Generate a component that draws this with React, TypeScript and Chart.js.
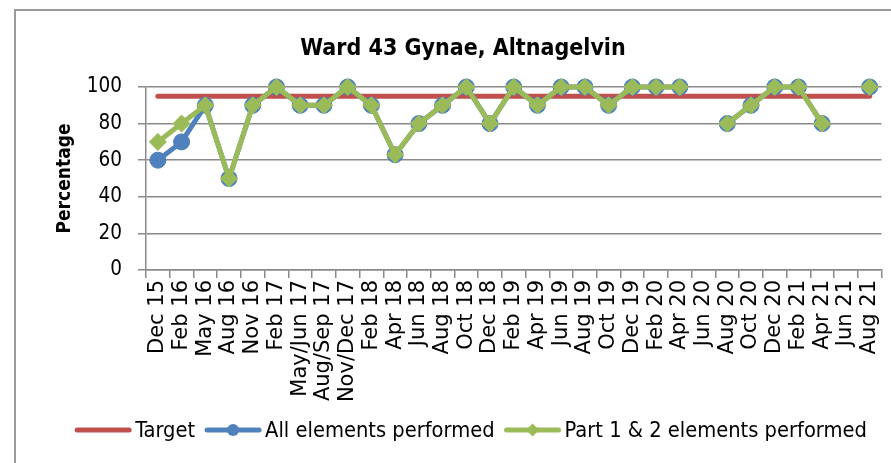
import React, { useEffect, useRef } from "react";
import { Chart, registerables } from "chart.js";

Chart.register(...registerables);

const categories = [
  "Dec 15", "Feb 16", "May 16", "Aug 16", "Nov 16", "Feb 17", "May/Jun 17", "Aug/Sep 17",
  "Nov/Dec 17", "Feb 18", "Apr 18", "Jun 18", "Aug 18", "Oct 18", "Dec 18", "Feb 19",
  "Apr 19", "Jun 19", "Aug 19", "Oct 19", "Dec 19", "Feb 20", "Apr 20", "Jun 20",
  "Aug 20", "Oct 20", "Dec 20", "Feb 21", "Apr 21", "Jun 21", "Aug 21",
];

const targetValues = [
  95, 95, 95, 95, 95, 95, 95, 95, 95, 95, 95, 95, 95, 95, 95, 95,
  95, 95, 95, 95, 95, 95, 95, 95, 95, 95, 95, 95, 95, 95, 95,
];

const allElements: (number | null)[] = [
  60, 70, 90, 50, 90, 100, 90, 90, 100, 90, 63, 80, 90, 100, 80, 100,
  90, 100, 100, 90, 100, 100, 100, null, 80, 90, 100, 100, 80, null, 100,
];

const part12Elements: (number | null)[] = [
  70, 80, 90, 50, 90, 100, 90, 90, 100, 90, 63, 80, 90, 100, 80, 100,
  90, 100, 100, 90, 100, 100, 100, null, 80, 90, 100, 100, 80, null, 100,
];

const yTicks = [0, 20, 40, 60, 80, 100];

const chartTitle = "Ward 43 Gynae, Altnagelvin";
const yTitle = "Percentage";
const seriesNames = ["Target", "All elements performed", "Part 1 & 2 elements performed"];

const RED = "#C0504D";
const BLUE = "#4F81BD";
const GREEN = "#9BBB59";
const GRID = "#8a8a8a";

const W = 891;
const H = 463;

export default function App() {
  const ref = useRef<HTMLCanvasElement | null>(null);

  useEffect(() => {
    const canvas = ref.current;
    if (!canvas) return;

    const decor = {
      id: "decor",
      beforeDraw(chart: any) {
        const ctx = chart.ctx;
        ctx.save();
        ctx.fillStyle = "#ffffff";
        ctx.fillRect(0, 0, W, H);
        ctx.strokeStyle = "#9a9a9a";
        ctx.lineWidth = 2;
        ctx.beginPath();
        ctx.moveTo(15, H);
        ctx.lineTo(15, 10);
        ctx.lineTo(W, 10);
        ctx.stroke();
        ctx.restore();
      },
      afterDraw(chart: any) {
        const ctx = chart.ctx;
        const area = chart.chartArea;
        ctx.save();
        // title
        ctx.fillStyle = "#000";
        ctx.textAlign = "center";
        ctx.textBaseline = "middle";
        ctx.font = "bold 23px 'DejaVu Sans Condensed', 'DejaVu Sans'";
        ctx.fillText(chartTitle, 463, 49);
        // y title
        ctx.save();
        ctx.translate(65, (area.top + area.bottom) / 2);
        ctx.rotate(-Math.PI / 2);
        ctx.font = "bold 19px 'DejaVu Sans Condensed', 'DejaVu Sans'";
        ctx.fillText(yTitle, 0, 0);
        ctx.restore();

        // legend
        const colors = [RED, BLUE, GREEN];
        const markers = ["none", "circle", "diamond"];
        ctx.font = "21.7px 'DejaVu Sans Condensed', 'DejaVu Sans'";
        const lineLen = 56;
        const gapText = 4;
        const gapItem = 10;
        const widths = seriesNames.map((n) => ctx.measureText(n).width);
        const total = widths.reduce((a, w) => a + lineLen + gapText + w, 0) + gapItem * (seriesNames.length - 1);
        let x = 471 - total / 2;
        const y = 430;
        ctx.textAlign = "left";
        seriesNames.forEach((name, i) => {
          ctx.strokeStyle = colors[i];
          ctx.lineWidth = 5;
          ctx.lineCap = "round";
          ctx.beginPath();
          ctx.moveTo(x + 2, y);
          ctx.lineTo(x + lineLen - 2, y);
          ctx.stroke();
          const cx = x + lineLen / 2;
          ctx.fillStyle = colors[i];
          if (markers[i] === "circle") {
            ctx.beginPath();
            ctx.arc(cx, y, 6, 0, Math.PI * 2);
            ctx.fill();
          } else if (markers[i] === "diamond") {
            ctx.beginPath();
            ctx.moveTo(cx - 6.5, y);
            ctx.lineTo(cx, y - 6.5);
            ctx.lineTo(cx + 6.5, y);
            ctx.lineTo(cx, y + 6.5);
            ctx.closePath();
            ctx.fill();
          }
          ctx.fillStyle = "#000";
          ctx.fillText(name, x + lineLen + gapText, y + 1);
          x += lineLen + gapText + widths[i] + gapItem;
        });
        ctx.restore();
      },
    };

    const chart = new Chart(canvas, {
      type: "line",
      data: {
        labels: categories,
        datasets: [
          {
            label: seriesNames[0],
            data: targetValues,
            borderColor: RED,
            backgroundColor: RED,
            borderWidth: 5,
            pointRadius: 0,
            borderCapStyle: "round",
            clip: false,
            order: 3,
          },
          {
            label: seriesNames[1],
            data: allElements,
            borderColor: BLUE,
            backgroundColor: BLUE,
            borderWidth: 5,
            pointStyle: "circle",
            pointRadius: 8,
            pointBorderWidth: 1,
            pointBorderColor: BLUE,
            pointBackgroundColor: BLUE,
            spanGaps: false,
            clip: false,
            order: 2,
          },
          {
            label: seriesNames[2],
            data: part12Elements,
            borderColor: GREEN,
            backgroundColor: GREEN,
            borderWidth: 5,
            pointStyle: "rectRot",
            pointRadius: 8.5,
            pointBorderWidth: 1,
            pointBorderColor: GREEN,
            pointBackgroundColor: GREEN,
            spanGaps: false,
            clip: false,
            order: 1,
          },
        ],
      },
      options: {
        responsive: false,
        animation: false,
        devicePixelRatio: 1,
        layout: { padding: { top: 87, right: 9, left: 0, bottom: 0 } },
        plugins: {
          legend: { display: false },
          title: { display: false },
          tooltip: { enabled: false },
        },
        scales: {
          x: {
            type: "category",
            offset: true,
            grid: {
              display: true,
              offset: true,
              drawOnChartArea: false,
              drawTicks: true,
              tickLength: 8,
              color: GRID,
              lineWidth: 1.5,
            },
            border: { display: true, color: GRID, width: 1.5 },
            ticks: {
              autoSkip: false,
              minRotation: 90,
              maxRotation: 90,
              padding: 2,
              color: "#000",
              font: { family: "'DejaVu Sans'", size: 21 },
            },
            afterFit(scale: any) {
              scale.height = H - 270;
              scale.paddingLeft = 0;
              scale.paddingRight = 0;
            },
          },
          y: {
            min: 0,
            max: 100,
            afterBuildTicks(scale: any) {
              scale.ticks = yTicks.map((v) => ({ value: v }));
            },
            grid: {
              color: GRID,
              lineWidth: 1.5,
              drawTicks: true,
              tickLength: 8,
            },
            border: { display: true, color: GRID, width: 1.5 },
            ticks: {
              padding: 16,
              color: "#000",
              font: { family: "'DejaVu Sans Condensed', 'DejaVu Sans'", size: 20.5 },
            },
            afterFit(scale: any) {
              scale.width = 146;
              scale.paddingTop = 0;
              scale.paddingBottom = 0;
            },
          },
        },
      },
      plugins: [decor],
    } as any);

    return () => chart.destroy();
  }, []);

  return (
    <div style={{ position: "fixed", left: 0, top: 0, width: W, height: H, background: "#fff" }}>
      <canvas ref={ref} width={W} height={H} style={{ width: W, height: H, display: "block" }} />
    </div>
  );
}
